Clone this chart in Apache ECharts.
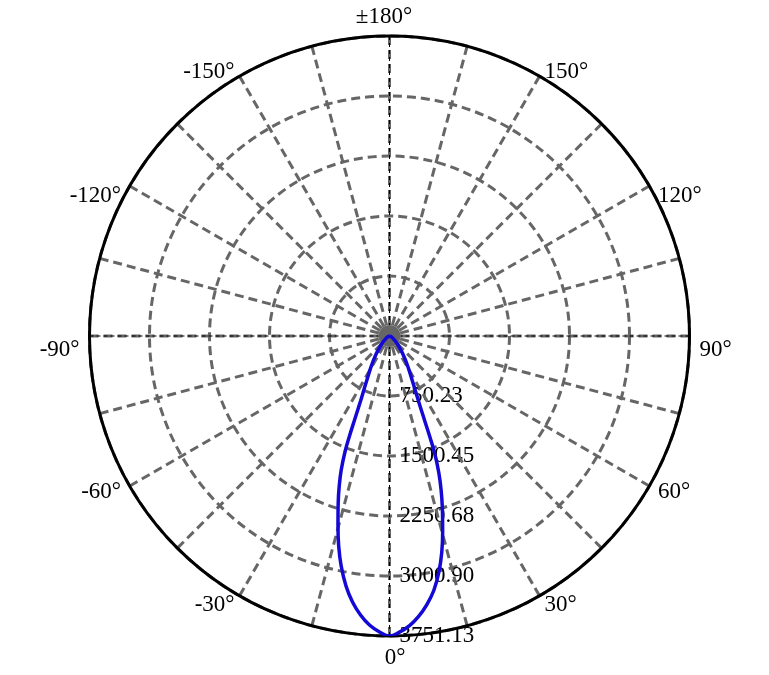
<!DOCTYPE html>
<html><head><meta charset="utf-8">
<script src="https://cdn.jsdelivr.net/npm/echarts/dist/echarts.min.js"></script>
<style>html,body{margin:0;padding:0;background:#fff}#c{width:769px;height:675px}</style>
</head><body><div id="c"></div>
<script>
// polar angles (degrees from 0° = down), same for both half-planes
const sideAngles = [0, 1.93, 3.96, 5.93, 7.92, 9.87, 11.86, 13.6, 15.17, 17.08, 18.53, 19.82,
  21.07, 21.8, 22.6, 24.0, 26.6, 33.7, 43.4, 60, 70, 80, 90, 180];
// luminous intensity (cd), negative-angle side (-0° .. -180°)
const intensityLeft = [3751.13, 3703, 3622, 3507, 3358, 3173, 2939, 2702, 2462, 2184, 1978, 1781,
  1541, 1347, 1138, 890, 657, 361, 155, 40, 10, 0, 0, 0];
// luminous intensity (cd), positive-angle side (0° .. 180°)
const intensityRight = [3751.13, 3705, 3630, 3525, 3390, 3230, 3010, 2780, 2540, 2250, 2030, 1820,
  1570, 1360, 1140, 890, 657, 361, 155, 40, 10, 0, 0, 0];
const radiusMax = 3751.13;
const ringCount = 5;
const angleLabelStep = 30;
const spokeStep = 15;

const FONT = 'Liberation Serif';
const FS = 23;
const center = [389.5, 336];
const R = 300;

// per-label placement tweaks (style only)
function tok(extra) {
  return Object.assign({fontFamily: FONT, fontSize: FS, color: '#000'}, extra);
}
const rich = {
  a0:   tok({verticalAlign: 'top', lineHeight: 1, height: 23, padding: [0, 0, 0, 11]}),
  a30:  tok({verticalAlign: 'top', lineHeight: 1, height: 1}),
  a60:  tok({verticalAlign: 'top', lineHeight: 1, height: 1}),
  a90:  tok({verticalAlign: 'top', lineHeight: 1, height: 29}),
  a120: tok({verticalAlign: 'top', lineHeight: 1, height: 32}),
  a150: tok({verticalAlign: 'top', lineHeight: 1, height: 10}),
  a180: tok({verticalAlign: 'middle', lineHeight: 18, padding: [0, 11, 0, 0]}),
  a210: tok({verticalAlign: 'top', lineHeight: 1, height: 10}),
  a240: tok({verticalAlign: 'top', lineHeight: 1, height: 32}),
  a270: tok({verticalAlign: 'top', lineHeight: 1, height: 29}),
  a300: tok({verticalAlign: 'top', lineHeight: 1, height: 1}),
  a330: tok({verticalAlign: 'top', lineHeight: 1, height: 1})
};

const curve = [];
for (let i = sideAngles.length - 1; i >= 0; i--) curve.push([intensityLeft[i], 360 - sideAngles[i]]);
for (let i = 1; i < sideAngles.length; i++) curve.push([intensityRight[i], sideAngles[i]]);

const chart = echarts.init(document.getElementById('c'), null, {renderer: 'canvas'});
chart.setOption({
  animation: false,
  backgroundColor: '#fff',
  polar: [
    {center: center, radius: R},
    {center: center, radius: R},
    {center: center, radius: 11}
  ],
  angleAxis: [
    {
      polarIndex: 0, type: 'value', min: 0, max: 360, interval: spokeStep,
      startAngle: -90, clockwise: false, z: 2,
      axisLine: {show: true, lineStyle: {color: '#000', width: 3}},
      axisTick: {show: false},
      splitLine: {show: true, lineStyle: {color: '#666', width: 3, type: [9, 5]}},
      axisLabel: {
        show: true, margin: 10, color: '#000', fontFamily: FONT, fontSize: FS,
        rich: rich,
        formatter: function (v) {
          if (v % angleLabelStep !== 0 || v === 360) return '';
          let txt;
          if (v === 180) txt = '±180°';
          else txt = (v > 180 ? v - 360 : v) + '°';
          return '{a' + v + '|' + txt + '}';
        }
      }
    },
    {
      polarIndex: 1, type: 'value', min: 0, max: 360, interval: 90,
      startAngle: -90, clockwise: false, z: 3,
      axisLine: {show: false}, axisTick: {show: false}, axisLabel: {show: false},
      splitLine: {show: true, lineStyle: {color: '#000', width: 1, type: [4, 3]}}
    },
    {
      polarIndex: 2, type: 'value', min: 0, max: 360, z: 4,
      axisLine: {show: false}, axisTick: {show: false}, axisLabel: {show: false},
      splitLine: {show: false}
    }
  ],
  radiusAxis: [
    {
      polarIndex: 0, type: 'value', min: 0, max: radiusMax, interval: radiusMax / ringCount, z: 1,
      axisLine: {show: false}, axisTick: {show: false},
      splitLine: {show: true, lineStyle: {color: '#666', width: 3, type: [9, 5]}},
      axisLabel: {
        show: true, margin: 10, color: '#000', fontFamily: FONT, fontSize: FS,
        formatter: function (v) { return v === 0 ? '' : v.toFixed(2); }
      }
    },
    {
      polarIndex: 1, type: 'value', min: 0, max: radiusMax,
      axisLine: {show: false}, axisTick: {show: false}, axisLabel: {show: false},
      splitLine: {show: false}
    },
    {
      polarIndex: 2, type: 'value', min: 0, max: 1, interval: 1, z: 4,
      axisLine: {show: false}, axisTick: {show: false}, axisLabel: {show: false},
      splitLine: {show: false},
      splitArea: {show: true, areaStyle: {color: ['#666666']}}
    }
  ],
  series: [{
    type: 'line', coordinateSystem: 'polar', polarIndex: 0, z: 10,
    smooth: 0.4, showSymbol: false, symbol: 'none',
    lineStyle: {color: '#1408D6', width: 3.5},
    data: curve
  }]
});
</script></body></html>
